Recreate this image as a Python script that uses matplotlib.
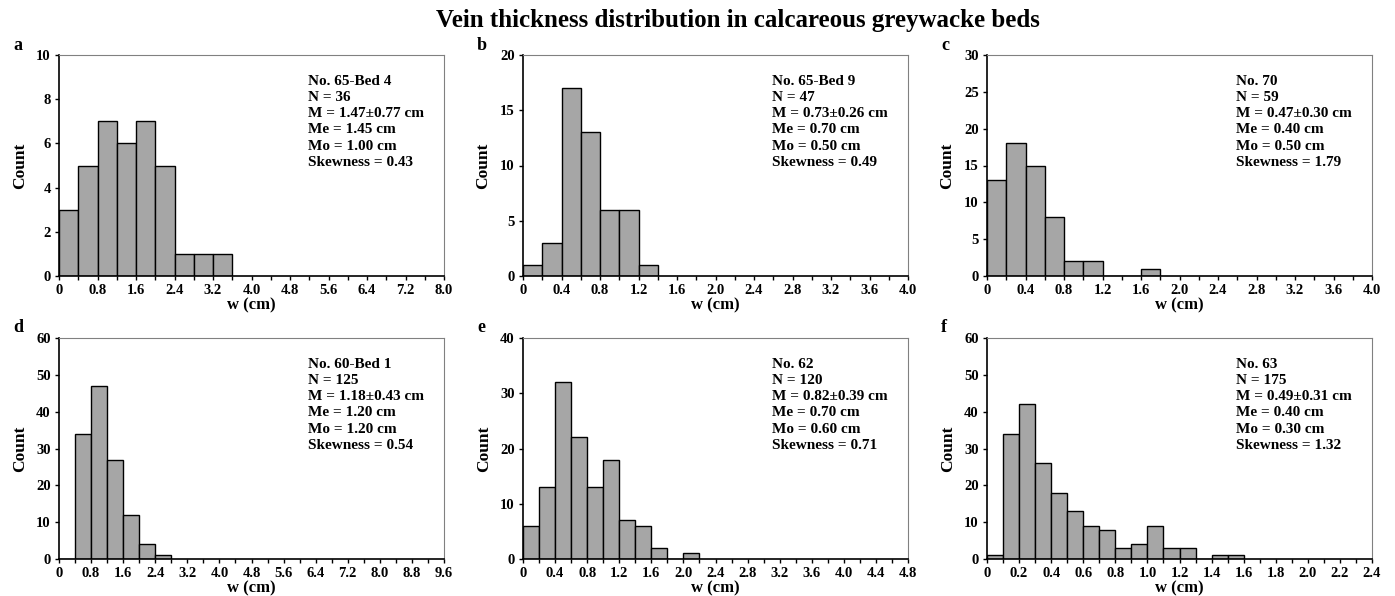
import matplotlib.pyplot as plt
import numpy as np

plt.rcParams['font.family'] = ['Liberation Serif', 'DejaVu Serif']
plt.rcParams['font.weight'] = 'bold'

# per-panel data: bin width, counts (starting at 0), axis limits
labels = ['a', 'b', 'c', 'd', 'e', 'f']
bin_widths = [0.4, 0.2, 0.2, 0.4, 0.2, 0.1]
counts_a = [3, 5, 7, 6, 7, 5, 1, 1, 1]
counts_b = [1, 3, 17, 13, 6, 6, 1]
counts_c = [13, 18, 15, 8, 2, 2, 0, 0, 1]
counts_d = [0, 34, 47, 27, 12, 4, 1]
counts_e = [6, 13, 32, 22, 13, 18, 7, 6, 2, 0, 1]
counts_f = [1, 34, 42, 26, 18, 13, 9, 8, 3, 4, 9, 3, 3, 0, 1, 1]
all_counts = [counts_a, counts_b, counts_c, counts_d, counts_e, counts_f]
xmax = [8.0, 4.0, 4.0, 9.6, 4.8, 2.4]
xstep = [0.8, 0.4, 0.4, 0.8, 0.4, 0.2]
ymax = [10, 20, 30, 60, 40, 60]
ystep = [2, 5, 5, 10, 10, 10]
stats = [
    "No. 65-Bed 4\nN = 36\nM = 1.47\u00b10.77 cm\nMe = 1.45 cm\nMo = 1.00 cm\nSkewness = 0.43",
    "No. 65-Bed 9\nN = 47\nM = 0.73\u00b10.26 cm\nMe = 0.70 cm\nMo = 0.50 cm\nSkewness = 0.49",
    "No. 70\nN = 59\nM = 0.47\u00b10.30 cm\nMe = 0.40 cm\nMo = 0.50 cm\nSkewness = 1.79",
    "No. 60-Bed 1\nN = 125\nM = 1.18\u00b10.43 cm\nMe = 1.20 cm\nMo = 1.20 cm\nSkewness = 0.54",
    "No. 62\nN = 120\nM = 0.82\u00b10.39 cm\nMe = 0.70 cm\nMo = 0.60 cm\nSkewness = 0.71",
    "No. 63\nN = 175\nM = 0.49\u00b10.31 cm\nMe = 0.40 cm\nMo = 0.30 cm\nSkewness = 1.32",
]

W, H = 1395, 596
fig = plt.figure(figsize=(W / 100, H / 100), dpi=100)
lefts = [59, 523, 987]
tops = [55, 338]
aw, ah = 385, 221

for i in range(6):
    r, c = divmod(i, 3)
    ax = fig.add_axes([lefts[c] / W, 1 - (tops[r] + ah) / H, aw / W, ah / H])
    cnt = all_counts[i]
    bw = bin_widths[i]
    edges = np.arange(len(cnt)) * bw
    ax.bar(edges, cnt, width=bw, align='edge', color='#a6a6a6',
           edgecolor='black', linewidth=1.0, zorder=2)
    ax.set_xlim(0, xmax[i])
    ax.set_ylim(0, ymax[i])
    major = np.arange(0, xmax[i] + 1e-9, xstep[i])
    ax.set_xticks(major)
    ax.set_xticklabels(['0'] + ['%.1f' % v for v in major[1:]])
    ax.set_xticks(np.arange(0, xmax[i] + 1e-9, xstep[i] / 2), minor=True)
    ax.set_yticks(np.arange(0, ymax[i] + 1, ystep[i]))
    ax.tick_params(axis='both', labelsize=10.5, width=1, length=3, direction='out', pad=3)
    ax.tick_params(axis='x', which='minor', width=1, length=3, direction='out')
    for s in ['top', 'right']:
        ax.spines[s].set_color('#808080')
    for s in ['left', 'bottom']:
        ax.spines[s].set_linewidth(1.2)
    ax.set_ylabel('Count', fontsize=12.5, fontweight='bold', labelpad=6)
    ax.set_xlabel('w (cm)', fontsize=12, fontweight='bold', labelpad=0)
    ax.text(0.647, 0.91, stats[i], transform=ax.transAxes, fontsize=11,
            fontweight='bold', va='top', ha='left', linespacing=1.32)
    fig.text((lefts[c] - 46) / W, 1 - (tops[r] - 10) / H, labels[i],
             fontsize=13, fontweight='bold', va='center', ha='left')

fig.text(738 / W, 1 - 20 / H, 'Vein thickness distribution in calcareous greywacke beds',
         fontsize=18, fontweight='bold', ha='center', va='center')

fig.savefig('out.png', dpi=100)
